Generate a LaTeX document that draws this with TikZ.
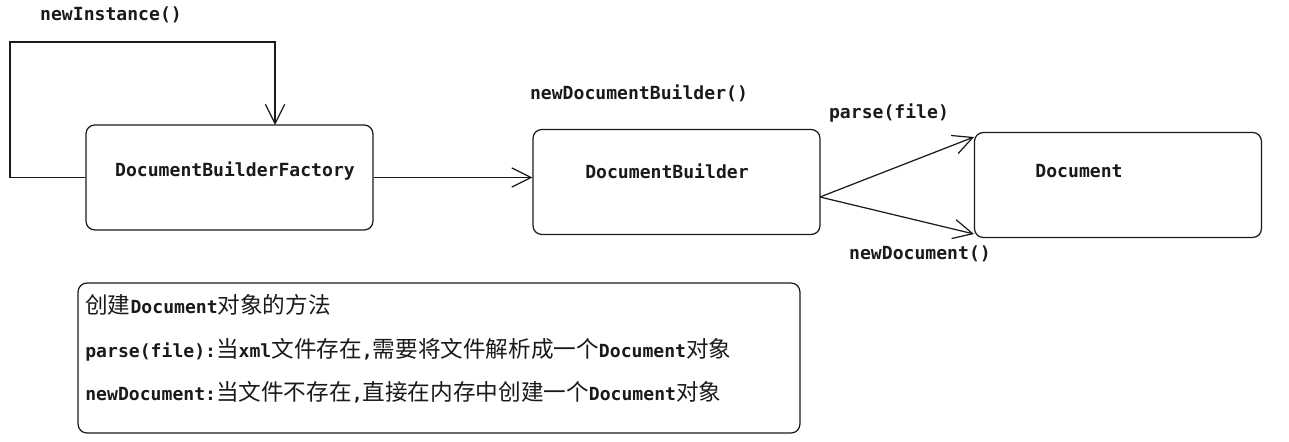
\documentclass[tikz,border=0pt]{standalone}
\usepackage{fontspec}
\setmonofont{DejaVu Sans Mono}
\newfontfamily\cjk[Scale=1.25]{Noto Sans CJK SC}
\newcommand\zh[1]{{\cjk\mdseries #1}}
\usetikzlibrary{arrows.meta}
\definecolor{vdarkgray}{HTML}{1a1a1a}

\begin{document}
\begin{tikzpicture}[x=0.02cm, y=-0.02cm,
		box/.style={draw=vdarkgray, line width=0.7pt, rounded corners=5pt, minimum width=5.74cm, minimum height=2.1cm},
		lbl/.style={text=vdarkgray, font=\fontsize{10.3}{12}\selectfont\ttfamily\bfseries, inner sep=0pt},
		arr/.style={color=vdarkgray, line width=0.7pt, -{Straight Barb[length=11pt,width=11pt]}}]
		\useasboundingbox (0,0) rectangle (1289,442);
		\node[box] (factory) at (229.5,177.5) {};
		\node[box] (builder) at (676.5,182) {};
		\node[box] (doc) at (1118,185) {};
		\node[box, minimum width=14.44cm, minimum height=3cm] (note) at (439,358) {};
		\node[lbl] (factoryT) at (235,171) {DocumentBuilderFactory};
		\node[lbl] (builderT) at (667,171) {DocumentBuilder};
		\node[lbl] (docT) at (1079,171) {Document};
		\node[lbl] (instT) at (111,15) {newInstance()};
		\node[lbl] (newbT) at (639,93) {newDocumentBuilder()};
		\node[lbl] (parseT) at (889,113) {parse(file)};
		\node[lbl] (newdT) at (920,254) {newDocument()};
		\node[lbl, anchor=west] (line1) at (85,305) {\zh{创建}Document\zh{对象的方法}};
		\node[lbl, anchor=west] (line2) at (85,350) {parse(file):\zh{当}xml\zh{文件存在},\zh{需要将文件解析成一个}Document\zh{对象}};
		\node[lbl, anchor=west] (line3) at (85,392) {newDocument:\zh{当文件不存在},\zh{直接在内存中创建一个}Document\zh{对象}};
		\coordinate (loopL) at (10,42);
		\coordinate (loopT) at (275,125);
		\coordinate (fork) at (820,197);
		\coordinate (docTop) at (974,137);
		\coordinate (docBot) at (974,234);
		\draw[arr] (factory.west) -| (loopL) -| (loopT);
		\draw[arr] (factory.east) -- (factory.east -| builder.west);
		\draw[arr] (fork) -- (docTop);
		\draw[arr] (fork) -- (docBot);
	\end{tikzpicture}
\end{document}
